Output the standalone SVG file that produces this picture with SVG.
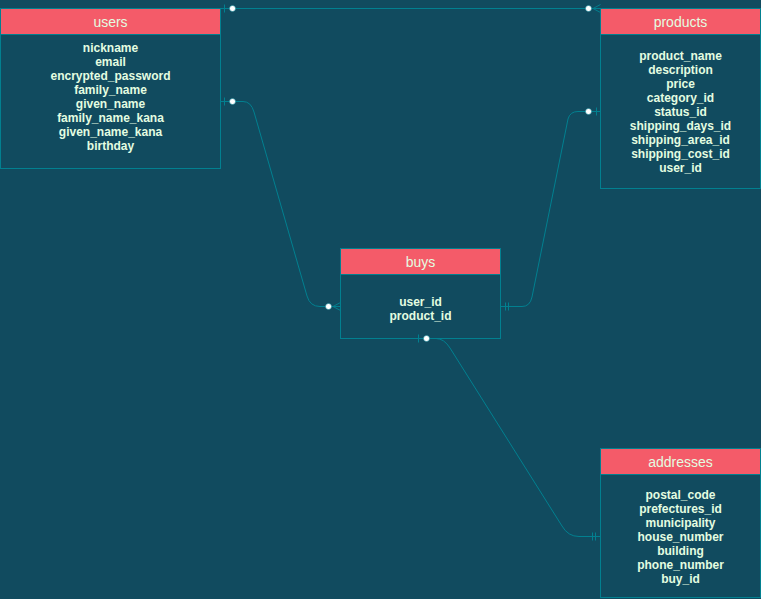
<svg xmlns="http://www.w3.org/2000/svg" width="761" height="599" viewBox="0 0 761 599">
<style>
.box{fill:#114B5F;stroke:#028090;stroke-width:1}
.hdr{fill:#F45B69;stroke:#028090;stroke-width:1}
.ht{font-family:"Liberation Sans",Arial,sans-serif;font-size:14px;fill:#E4FDE1;text-anchor:middle}
.ft{font-family:"Liberation Sans",Arial,sans-serif;font-size:12px;font-weight:bold;fill:#E4FDE1;text-anchor:middle}
.cn{fill:none;stroke:#028090;stroke-width:1}
.dot{fill:#ffffff;stroke:#028090;stroke-width:0.5}
</style>
<rect x="0" y="0" width="761" height="599" fill="#114B5F"/>
<g id="users">
  <rect class="box" x="0.5" y="8.5" width="220" height="160"/>
  <rect class="hdr" x="0.5" y="8.5" width="220" height="26"/>
  <text class="ht" x="110.5" y="27">users</text>
  <text class="ft" x="110.5" y="52">nickname</text>
  <text class="ft" x="110.5" y="66">email</text>
  <text class="ft" x="110.5" y="80">encrypted_password</text>
  <text class="ft" x="110.5" y="94">family_name</text>
  <text class="ft" x="110.5" y="108">given_name</text>
  <text class="ft" x="110.5" y="122">family_name_kana</text>
  <text class="ft" x="110.5" y="136">given_name_kana</text>
  <text class="ft" x="110.5" y="150">birthday</text>
</g>
<g id="products">
  <rect class="box" x="600.5" y="8.5" width="160" height="180"/>
  <rect class="hdr" x="600.5" y="8.5" width="160" height="26"/>
  <text class="ht" x="680.5" y="27">products</text>
  <text class="ft" x="680.5" y="60">product_name</text>
  <text class="ft" x="680.5" y="74">description</text>
  <text class="ft" x="680.5" y="88">price</text>
  <text class="ft" x="680.5" y="102">category_id</text>
  <text class="ft" x="680.5" y="116">status_id</text>
  <text class="ft" x="680.5" y="130">shipping_days_id</text>
  <text class="ft" x="680.5" y="144">shipping_area_id</text>
  <text class="ft" x="680.5" y="158">shipping_cost_id</text>
  <text class="ft" x="680.5" y="172">user_id</text>
</g>
<g id="buys">
  <rect class="box" x="340.5" y="248.5" width="160" height="90"/>
  <rect class="hdr" x="340.5" y="248.5" width="160" height="26"/>
  <text class="ht" x="420.5" y="267">buys</text>
  <text class="ft" x="420.5" y="306">user_id</text>
  <text class="ft" x="420.5" y="320">product_id</text>
</g>
<g id="addresses">
  <rect class="box" x="600.5" y="448.5" width="160" height="149"/>
  <rect class="hdr" x="600.5" y="448.5" width="160" height="26"/>
  <text class="ht" x="680.5" y="467">addresses</text>
  <text class="ft" x="680.5" y="499">postal_code</text>
  <text class="ft" x="680.5" y="513">prefectures_id</text>
  <text class="ft" x="680.5" y="527">municipality</text>
  <text class="ft" x="680.5" y="541">house_number</text>
  <text class="ft" x="680.5" y="555">building</text>
  <text class="ft" x="680.5" y="569">phone_number</text>
  <text class="ft" x="680.5" y="583">buy_id</text>
</g>
<g id="connectors">
  <!-- users - products -->
  <path class="cn" d="M220.5,8.5 H600.5"/>
  <path class="cn" d="M224.5,4.5 V12.5"/>
  <circle class="dot" cx="232.5" cy="8.5" r="3"/>
  <path class="cn" d="M593,8.5 L600.5,4.5 M593,8.5 L600.5,12.5"/>
  <circle class="dot" cx="588.5" cy="8.5" r="3"/>
  <!-- users - buys -->
  <path class="cn" d="M220.5,101.5 H243 Q251,101.5 254,112 L307,296 Q310,306.5 320,306.5 H340.5"/>
  <path class="cn" d="M224.5,97.5 V105.5"/>
  <circle class="dot" cx="232.5" cy="101.5" r="3"/>
  <path class="cn" d="M333,306.5 L340.5,302.5 M333,306.5 L340.5,310.5"/>
  <circle class="dot" cx="328.5" cy="306.5" r="3"/>
  <!-- buys - products -->
  <path class="cn" d="M500.5,306.5 H522 Q530,306.5 532,297 L568,119 Q570,111.5 578,111.5 H600.5"/>
  <path class="cn" d="M505.5,302.5 V310.5 M508.5,302.5 V310.5"/>
  <path class="cn" d="M596.5,107.5 V115.5"/>
  <circle class="dot" cx="588.5" cy="111.5" r="3"/>
  <!-- buys - addresses -->
  <path class="cn" d="M410.5,338.5 H436 Q444,338.5 450,348 L562,526 Q568,536.5 579,536.5 H600.5"/>
  <path class="cn" d="M418.5,334.5 V342.5"/>
  <circle class="dot" cx="426.5" cy="338.5" r="3"/>
  <path class="cn" d="M592.5,532.5 V540.5 M595.5,532.5 V540.5"/>
</g>
</svg>
